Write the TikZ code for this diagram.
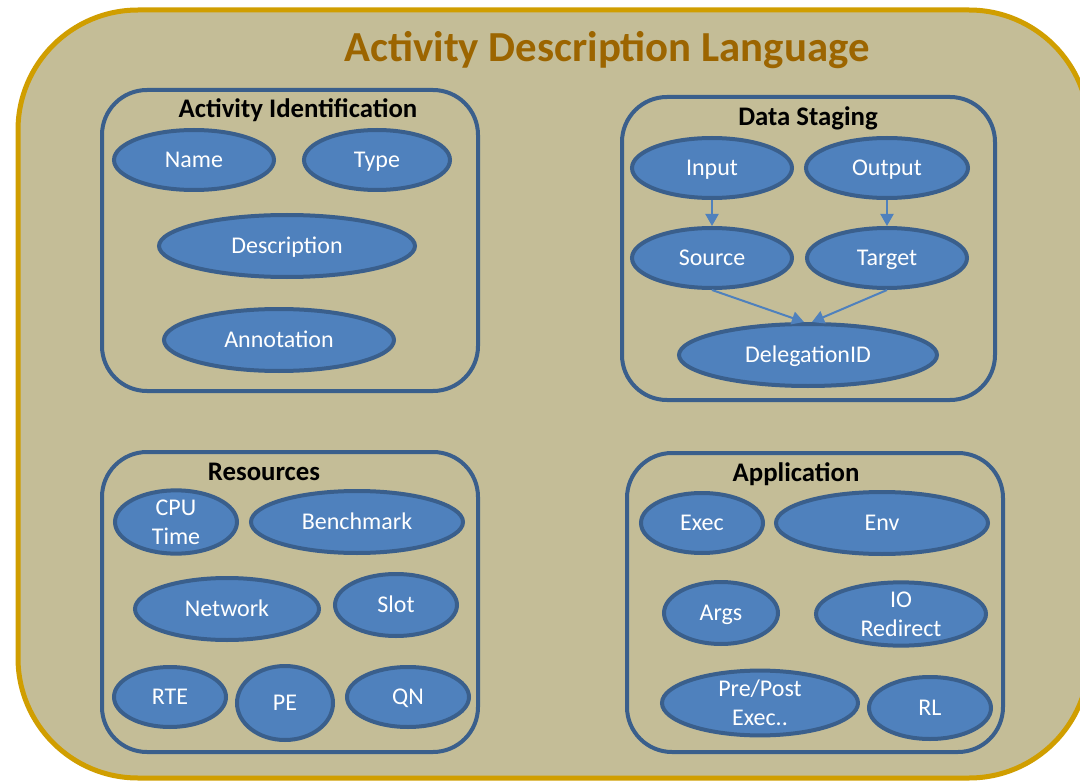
\documentclass[tikz,border=0pt]{standalone}
\usepackage{fontspec}
\setmainfont{Carlito}
\usetikzlibrary{shapes.geometric,arrows.meta,positioning}

\definecolor{adlfill}{RGB}{196,189,151}
\definecolor{adlborder}{RGB}{208,158,0}
\definecolor{adltitle}{RGB}{156,101,0}
\definecolor{boxline}{RGB}{58,95,140}
\definecolor{ovalfill}{RGB}{79,129,189}

\tikzset{
  grp/.style={draw=boxline,line width=4pt,rounded corners=45pt},
  grptitle/.style={font=\fontsize{26.8}{30}\selectfont\bfseries},
  item/.style 2 args={ellipse,draw=boxline,fill=ovalfill,line width=4pt,
    text=white,inner sep=0pt,align=center,text height=15.5pt,text depth=0pt,
    font=\fontsize{24}{29}\selectfont,minimum width=#1,minimum height=#2},
  twoline/.style={text height=,text depth=},
  flow/.style={draw=ovalfill,line width=2pt,-{Triangle[length=12pt,width=13pt]}}
}

\begin{document}
\begin{tikzpicture}[x=1pt,y=-1pt]
  \useasboundingbox (0,0) rectangle (1080,781);
  \draw[adlborder,fill=adlfill,line width=5pt,rounded corners=120pt] (18,10) rectangle (1089,778);
  \node[font=\fontsize{42.8}{48}\selectfont\bfseries,text=adltitle] (adl) at (607,50) {Activity Description Language};

  % activity identification
  \node[grp,minimum width=376pt,minimum height=301pt] (ident) at (290,240.5) {};
  \node[grptitle] (identtitle) at (298,110) {Activity Identification};
  \node[item={160pt}{60pt}] (name) at (194,160) {Name};
  \node[item={146pt}{60pt}] (type) at (377,160) {Type};
  \node[item={256pt}{62pt}] (descr) at (287,246) {Description};
  \node[item={230pt}{62pt}] (annot) at (279,340) {Annotation};

  % data staging
  \node[grp,minimum width=373pt,minimum height=303pt] (staging) at (808.5,248.5) {};
  \node[grptitle] (stagingtitle) at (808,118) {Data Staging};
  \node[item={160pt}{60pt}] (input) at (712,168) {Input};
  \node[item={162pt}{60pt}] (output) at (887,168) {Output};
  \node[item={160pt}{60pt}, below=90pt of input.center, anchor=center] (source) {Source};
  \node[item={160pt}{60pt}, below=90pt of output.center, anchor=center] (target) {Target};
  \node[item={258pt}{62pt}] (deleg) at (808,355) {DelegationID};
  \draw[flow] (input) -- (source);
  \draw[flow] (output) -- (target);
  \draw[flow] (source.south) -- ([xshift=-4pt]deleg.north);
  \draw[flow] (target.south) -- ([xshift=4pt]deleg.north);

  % resources
  \node[grp,minimum width=376pt,minimum height=300pt] (res) at (290,602) {};
  \node[grptitle] (restitle) at (264,472) {Resources};
  \node[item={122pt}{60pt},twoline] (cpu) at (176,522) {CPU\\Time};
  \node[item={212pt}{62pt}] (bench) at (357,522) {Benchmark};
  \node[item={184pt}{62pt}] (net) at (227,609) {Network};
  \node[item={122pt}{62pt}] (slot) at (396,605) {Slot};
  \node[item={112pt}{60pt}] (rte) at (170,697) {RTE};
  \node[item={96pt}{74pt}] (pe) at (285,703) {PE};
  \node[item={122pt}{60pt}] (qn) at (408,697) {QN};

  % application
  \node[grp,minimum width=376pt,minimum height=299pt] (app) at (815,602.5) {};
  \node[grptitle] (apptitle) at (796,474) {Application};
  \node[item={122pt}{60pt}] (exec) at (702,523) {Exec};
  \node[item={212pt}{62pt}] (env) at (882,523) {Env};
  \node[item={114pt}{62pt}] (args) at (721,613) {Args};
  \node[item={170pt}{62pt},twoline] (iored) at (901,614) {IO\\Redirect};
  \node[item={196pt}{62pt},twoline] (prepost) at (760,703) {Pre/Post\\Exec..};
  \node[item={122pt}{62pt}] (rl) at (930,708) {RL};
\end{tikzpicture}
\end{document}
